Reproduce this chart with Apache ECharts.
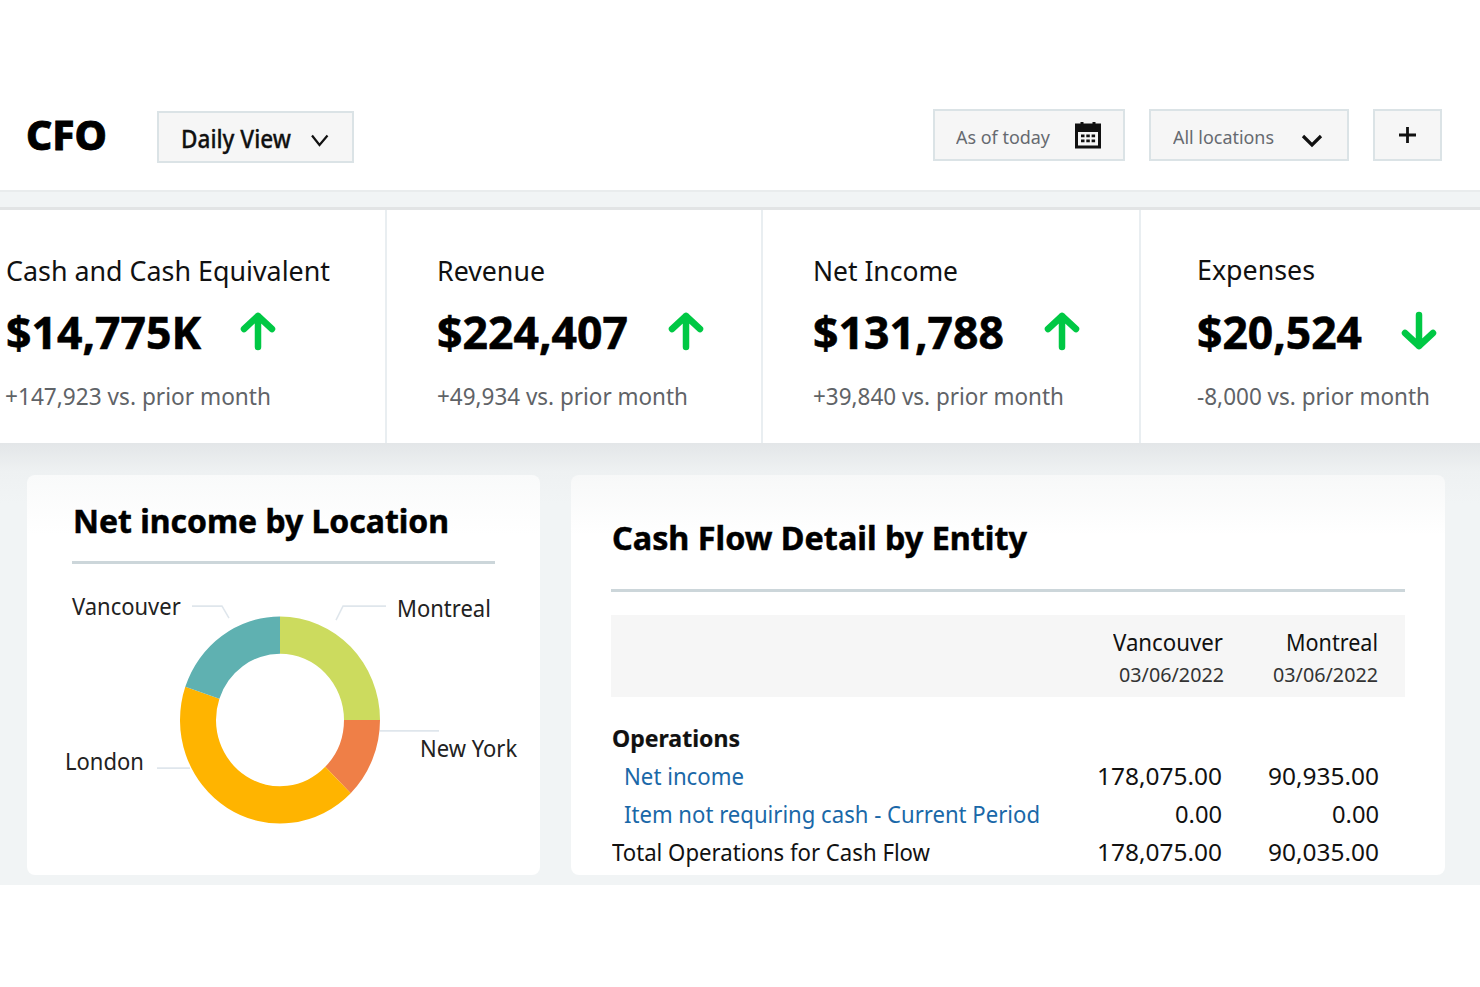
<!DOCTYPE html>
<html><head><meta charset="utf-8">
<script src="https://cdn.jsdelivr.net/npm/echarts@6/dist/echarts.min.js"></script>
<style>
html,body{margin:0;padding:0;background:#fff;width:1480px;height:987px;overflow:hidden;font-family:"Noto Sans",sans-serif}
.b{position:absolute;box-sizing:border-box}
.box{background:#f6f6f6;border:2.5px solid #dbe3e6}
.t{position:absolute;white-space:nowrap;line-height:0;color:#111}
svg{position:absolute;overflow:visible}
</style></head><body>
<div class="b" style="left:0;top:190px;width:1480px;height:18px;background:#f1f4f5;border-top:2px solid #e9eced"></div>
<div class="b" style="left:0;top:207px;width:1480px;height:3px;background:#e2e4e5"></div>
<div class="b" style="left:0;top:443px;width:1480px;height:442px;background:linear-gradient(#e3e6e8 0,#eef1f2 28px,#f1f4f5 60px)"></div>
<div class="b" style="left:385px;top:210px;width:2px;height:233px;background:#e9eef1"></div>
<div class="b" style="left:761px;top:210px;width:2px;height:233px;background:#e9eef1"></div>
<div class="b" style="left:1139px;top:210px;width:2px;height:233px;background:#e9eef1"></div>
<div class="b" style="left:27px;top:475px;width:513px;height:400px;background:linear-gradient(#f9fafa,#fff 60px);border-radius:8px"></div>
<div class="b" style="left:571px;top:475px;width:874px;height:400px;background:linear-gradient(#f7f8f8,#fff 60px);border-radius:8px"></div>
<div class="b box" style="left:157px;top:111px;width:197px;height:52px"></div>
<div class="b box" style="left:933px;top:109px;width:192px;height:52px"></div>
<div class="b box" style="left:1149px;top:109px;width:200px;height:52px"></div>
<div class="b box" style="left:1373px;top:109px;width:69px;height:52px"></div>
<div class="b" style="left:72px;top:561px;width:423px;height:2.500px;background:#ccd6da"></div>
<div class="b" style="left:611px;top:589px;width:794px;height:2.500px;background:#ccd6da"></div>
<div class="b" style="left:611px;top:615px;width:794px;height:82px;background:#f6f6f6"></div>
<svg style="left:0;top:0" width="1480" height="987" id="icons">
 <polyline points="312,135.5 319.500,145 327.500,135.500" fill="none" stroke="#111" stroke-width="2.200"/>
 <polyline points="1303,136 1312,145 1321,136" fill="none" stroke="#111" stroke-width="3.200"/>
 <path d="M1407.500 127V143M1399 135H1416" stroke="#111" stroke-width="2.800"/>
 <path d="M1076.500 125H1099.500V147H1076.500Z" fill="none" stroke="#111" stroke-width="3"/>
 <path d="M1076 125H1100V131H1076Z" fill="#111" stroke="#111" stroke-width="2"/>
 <path d="M1082 122V129M1094 122V129" stroke="#111" stroke-width="3"/>
 <path d="M1081 134.500h3.500v2.800h-3.500zM1086.300 134.500h3.500v2.800h-3.500zM1091.600 134.500h3.500v2.800h-3.500zM1081 139.500h3.500v2.800h-3.500zM1086.300 139.500h3.500v2.800h-3.500zM1091.600 139.500h3.500v2.800h-3.500z" fill="#111"/>
</svg>
<div id="txt"></div>
<div id="pie" style="position:absolute;left:30px;top:570px;width:510px;height:305px;transform:scaleY(1.035);transform-origin:0 150px"></div>
<script>
const locationNames = ['Montreal','New York','London','Vancouver'];
const locationValues = [25, 12.5, 42.7, 19.8];
const locationColors = ['#ccdb5e','#ef7f47','#ffb400','#5fb1b1'];

const kpiTitles = ['Cash and Cash Equivalent','Revenue','Net Income','Expenses'];
const kpiValues = ['$14,775K','$224,407','$131,788','$20,524'];
const kpiDeltas = ['+147,923 vs. prior month','+49,934 vs. prior month','+39,840 vs. prior month','-8,000 vs. prior month'];
const kpiUp = [true,true,true,false];

const tableColumns = ['Vancouver','Montreal'];
const tableDates = ['03/06/2022','03/06/2022'];
const tableRows = ['Net income','Item not requiring cash - Current Period','Total Operations for Cash Flow'];
const vancouverCells = ['178,075.00','0.00','178,075.00'];
const montrealCells = ['90,935.00','0.00','90,035.00'];

const host = document.getElementById('txt');
const icons = document.getElementById('icons');
function put(text,x0,x1,y,size,weight,color,stroke){
  const d=document.createElement('div');d.className='t';d.textContent=text;
  d.style.cssText=`left:${x0}px;top:${y}px;font-size:${size}px;font-weight:${weight};color:${color||'#111'};`+(stroke?`-webkit-text-stroke:${stroke}px ${color||'#000'};`:'');
  host.appendChild(d);
  const w=d.getBoundingClientRect().width;
  d.style.transformOrigin='0 0';d.style.transform=`scaleX(${(x1-x0)/w})`;
}
put('CFO',26,107,134,41,800,'#000',0.8);
put('Daily View',181,291,137.500,25,500,'#111',0.3);
put('As of today',956,1050,136.500,18.500,400,'#666a70');
put('All locations',1173,1274,136.500,18.500,400,'#666a70');

const titleX=[[6,330],[437,545],[813,958],[1197,1315]];
const titleY=[271,271,271,270];
const valX=[[6,201],[437,628],[813,1004],[1197,1362]];
const valY=[332,332,332,331.500];
const deltaX=[[5,271],[437,688],[813,1064],[1197,1430]];
const deltaY=[396,396,396,395.500];
const arrowX=[258,686,1062,1419];
kpiTitles.forEach((s,i)=>{
  put(s,titleX[i][0],titleX[i][1],titleY[i],27,400);
  put(kpiValues[i],valX[i][0],valX[i][1],valY[i],44,700,'#000',0.6);
  put(kpiDeltas[i],deltaX[i][0],deltaX[i][1],deltaY[i],23,400,'#5f6367');
  const x=arrowX[i];
  const p=document.createElementNS('http://www.w3.org/2000/svg','path');
  p.setAttribute('d',kpiUp[i]?`M${x} 347V316M${x-14} 329L${x} 316L${x+14} 329`:`M${x} 315V346M${x-14} 333L${x} 346L${x+14} 333`);
  p.setAttribute('fill','none');p.setAttribute('stroke','#00c844');p.setAttribute('stroke-width','6.500');
  p.setAttribute('stroke-linecap','round');p.setAttribute('stroke-linejoin','round');
  icons.appendChild(p);
});
put('Net income by Location',73,449,521,32,700,'#000',0.5);
put('Cash Flow Detail by Entity',612,1027,538,32,700,'#000',0.5);
put(tableColumns[0],1113,1223,641.500,24,400);
put(tableColumns[1],1286,1378,641.500,24,400);
put(tableDates[0],1119,1224,675,20,400,'#333');
put(tableDates[1],1273,1378,675,20,400,'#333');
put('Operations',612,740,737.500,24,700,'#111',0.2);
const rowY=[775.500,813.500,851.500], rowX=[[624,744],[624,1040],[612,930]];
const rowC=['#1a68a8','#1a68a8','#111'];
const vX=[[1097,1222],[1175,1222],[1097,1222]], mX=[[1268,1379],[1332,1379],[1268,1379]];
tableRows.forEach((s,i)=>{
  put(s,rowX[i][0],rowX[i][1],rowY[i],24,400,rowC[i]);
  put(vancouverCells[i],vX[i][0],vX[i][1],rowY[i],24,400);
  put(montrealCells[i],mX[i][0],mX[i][1],rowY[i],24,400);
});

const labelSpots={
 'Vancouver':{x:42,y:40,pts:[[199,51.500],[192,40],[162,40]]},
 'Montreal':{x:367,y:42,pts:[[306,53.500],[313,40],[356,40]]},
 'New York':{x:390,y:177.500,pts:[[350,160.500],[380,160.500],[409,160.500]]},
 'London':{x:35,y:189.500,pts:[[160,196.500],[143,196.500],[127,196.500]]}
};
const chart=echarts.init(document.getElementById('pie'),null,{renderer:'svg'});
chart.setOption({
 animation:false,
 series:[{
  type:'pie',center:[250,150],radius:[64,100],startAngle:90,clockwise:true,
  data:locationNames.map((n,i)=>({name:n,value:locationValues[i],itemStyle:{color:locationColors[i]}})),
  label:{show:true,position:'outside',formatter:'{b}',color:'#222',fontSize:22,fontFamily:'"Noto Sans",sans-serif',align:'left',verticalAlign:'middle'},
  labelLine:{show:true,length:10,length2:10,lineStyle:{color:'#dfe6ec',width:1.500}},
  labelLayout:function(p){
    const s=labelSpots[p.name||locationNames[p.dataIndex]];
    return {x:s.x,y:s.y,align:'left',verticalAlign:'middle',labelLinePoints:s.pts};
  }
 }]
});
</script>
</body></html>
